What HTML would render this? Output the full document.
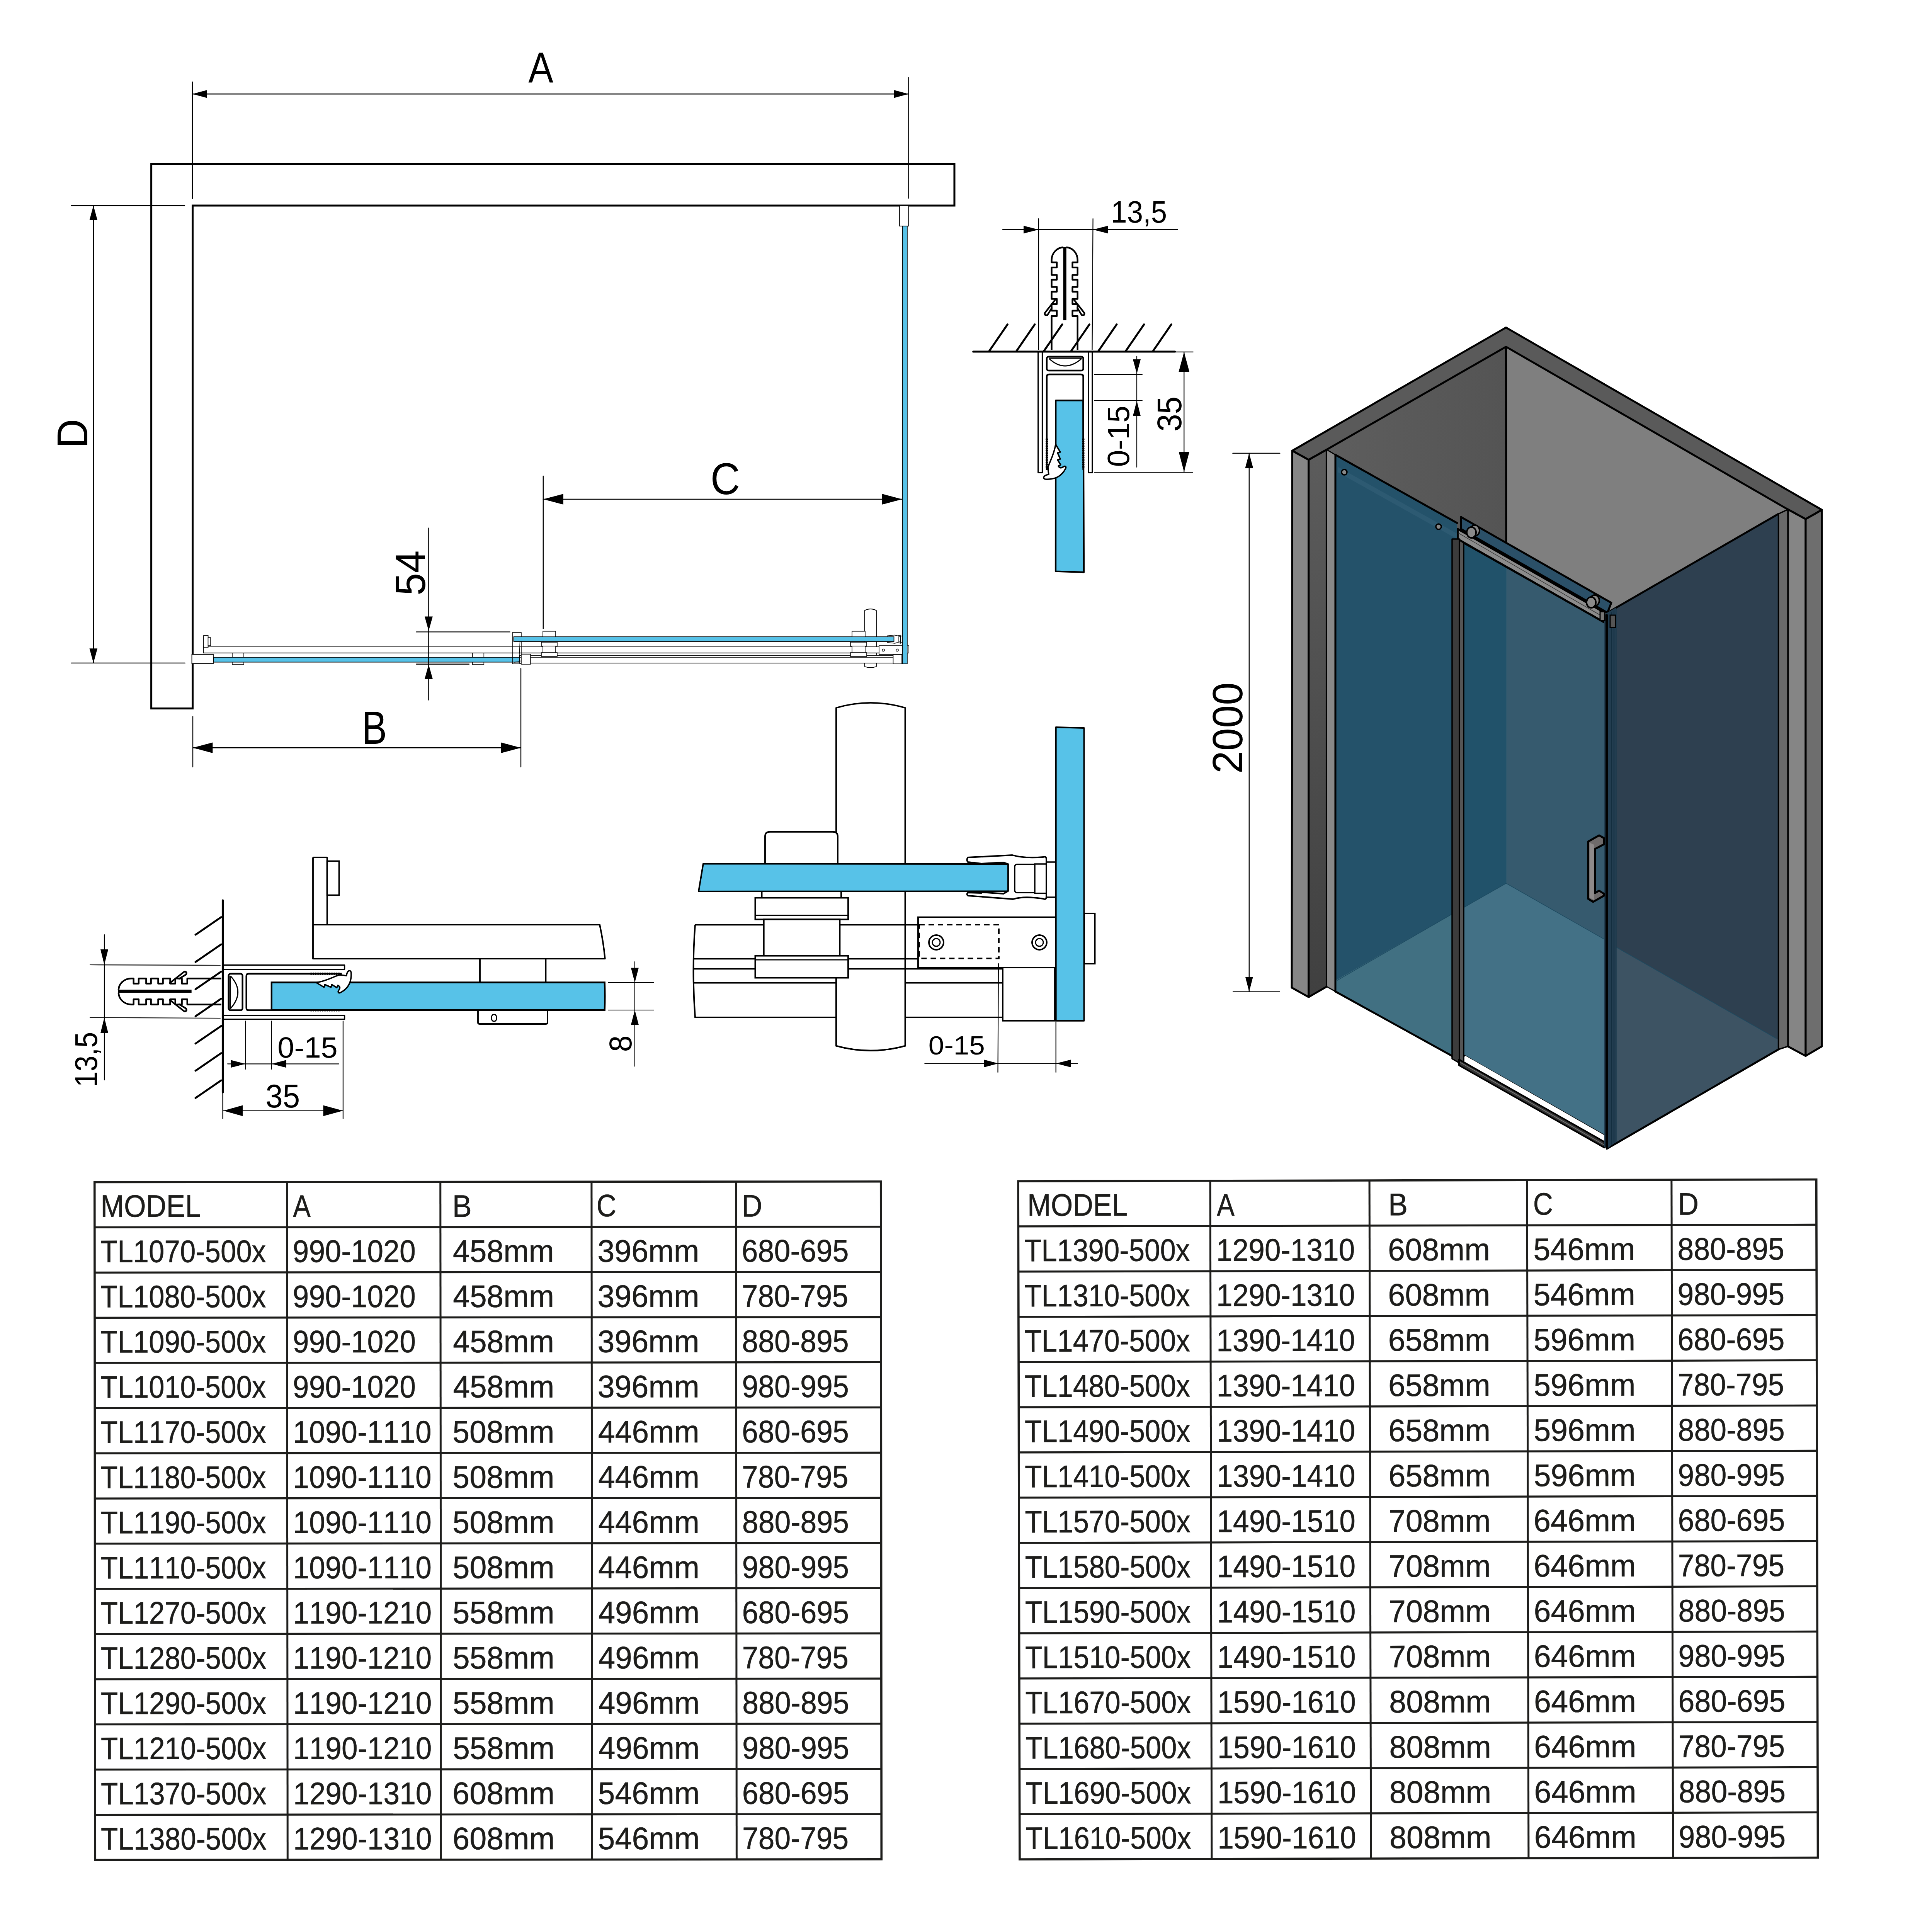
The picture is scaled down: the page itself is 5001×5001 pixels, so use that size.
<!DOCTYPE html><html><head><meta charset="utf-8"><style>html,body{margin:0;padding:0;background:#fff;width:5001px;height:5001px;overflow:hidden}svg{display:block}</style></head><body>
<svg width="5001" height="5001" viewBox="0 0 5001 5001" font-family='"Liberation Sans", sans-serif'>
<style>text{font-kerning:none;font-feature-settings:"kern" 0,"liga" 0;font-variant-ligatures:none}</style>
<rect width="5001" height="5001" fill="#fff"/>
<g fill="#1d1d1b">
<g transform="rotate(-0.05 1263.0 3935.6499999999996)">
<rect x="245.5" y="3058.6" width="2035.0" height="1754.1" fill="none" stroke="#1d1d1b" stroke-width="5.6"/>
<line x1="743.5" y1="3058.6" x2="743.5" y2="4812.7" stroke="#1d1d1b" stroke-width="5"/>
<line x1="1140.5" y1="3058.6" x2="1140.5" y2="4812.7" stroke="#1d1d1b" stroke-width="5"/>
<line x1="1531.7" y1="3058.6" x2="1531.7" y2="4812.7" stroke="#1d1d1b" stroke-width="5"/>
<line x1="1905.6" y1="3058.6" x2="1905.6" y2="4812.7" stroke="#1d1d1b" stroke-width="5"/>
<line x1="245.5" y1="3175.54" x2="2280.5" y2="3175.54" stroke="#1d1d1b" stroke-width="5.2"/>
<line x1="245.5" y1="3292.48" x2="2280.5" y2="3292.48" stroke="#1d1d1b" stroke-width="5.2"/>
<line x1="245.5" y1="3409.42" x2="2280.5" y2="3409.42" stroke="#1d1d1b" stroke-width="5.2"/>
<line x1="245.5" y1="3526.3599999999997" x2="2280.5" y2="3526.3599999999997" stroke="#1d1d1b" stroke-width="5.2"/>
<line x1="245.5" y1="3643.3" x2="2280.5" y2="3643.3" stroke="#1d1d1b" stroke-width="5.2"/>
<line x1="245.5" y1="3760.24" x2="2280.5" y2="3760.24" stroke="#1d1d1b" stroke-width="5.2"/>
<line x1="245.5" y1="3877.18" x2="2280.5" y2="3877.18" stroke="#1d1d1b" stroke-width="5.2"/>
<line x1="245.5" y1="3994.12" x2="2280.5" y2="3994.12" stroke="#1d1d1b" stroke-width="5.2"/>
<line x1="245.5" y1="4111.0599999999995" x2="2280.5" y2="4111.0599999999995" stroke="#1d1d1b" stroke-width="5.2"/>
<line x1="245.5" y1="4228.0" x2="2280.5" y2="4228.0" stroke="#1d1d1b" stroke-width="5.2"/>
<line x1="245.5" y1="4344.94" x2="2280.5" y2="4344.94" stroke="#1d1d1b" stroke-width="5.2"/>
<line x1="245.5" y1="4461.88" x2="2280.5" y2="4461.88" stroke="#1d1d1b" stroke-width="5.2"/>
<line x1="245.5" y1="4578.82" x2="2280.5" y2="4578.82" stroke="#1d1d1b" stroke-width="5.2"/>
<line x1="245.5" y1="4695.76" x2="2280.5" y2="4695.76" stroke="#1d1d1b" stroke-width="5.2"/>
<text transform="translate(261.02 3148.31) scale(0.9006 1)" font-size="81" stroke="#1d1d1b" stroke-width="0.7">MODEL</text>
<text transform="translate(758.87 3149.10) scale(0.8471 1)" font-size="81" stroke="#1d1d1b" stroke-width="0.7">A</text>
<text transform="translate(1171.43 3149.10) scale(0.9279 1)" font-size="81" stroke="#1d1d1b" stroke-width="0.7">B</text>
<text transform="translate(1544.39 3148.31) scale(0.8772 1)" font-size="81" stroke="#1d1d1b" stroke-width="0.7">C</text>
<text transform="translate(1919.91 3149.10) scale(0.9171 1)" font-size="81" stroke="#1d1d1b" stroke-width="0.7">D</text>
<text transform="translate(260.37 3265.75) scale(0.8975 1)" font-size="81" stroke="#1d1d1b" stroke-width="0.7">TL1070-500x</text>
<text transform="translate(758.07 3265.75) scale(0.9304 1)" font-size="81" stroke="#1d1d1b" stroke-width="0.7">990-1020</text>
<text transform="translate(1172.70 3265.75) scale(0.9700 1)" font-size="81" stroke="#1d1d1b" stroke-width="0.7">458mm</text>
<text transform="translate(1546.99 3265.75) scale(0.9745 1)" font-size="81" stroke="#1d1d1b" stroke-width="0.7">396mm</text>
<text transform="translate(1920.17 3265.75) scale(0.9318 1)" font-size="81" stroke="#1d1d1b" stroke-width="0.7">680-695</text>
<text transform="translate(260.37 3382.69) scale(0.8975 1)" font-size="81" stroke="#1d1d1b" stroke-width="0.7">TL1080-500x</text>
<text transform="translate(758.07 3382.69) scale(0.9304 1)" font-size="81" stroke="#1d1d1b" stroke-width="0.7">990-1020</text>
<text transform="translate(1172.70 3382.69) scale(0.9700 1)" font-size="81" stroke="#1d1d1b" stroke-width="0.7">458mm</text>
<text transform="translate(1546.99 3382.69) scale(0.9745 1)" font-size="81" stroke="#1d1d1b" stroke-width="0.7">396mm</text>
<text transform="translate(1920.15 3382.69) scale(0.9268 1)" font-size="81" stroke="#1d1d1b" stroke-width="0.7">780-795</text>
<text transform="translate(260.37 3499.63) scale(0.8975 1)" font-size="81" stroke="#1d1d1b" stroke-width="0.7">TL1090-500x</text>
<text transform="translate(758.07 3499.63) scale(0.9304 1)" font-size="81" stroke="#1d1d1b" stroke-width="0.7">990-1020</text>
<text transform="translate(1172.70 3499.63) scale(0.9700 1)" font-size="81" stroke="#1d1d1b" stroke-width="0.7">458mm</text>
<text transform="translate(1546.99 3499.63) scale(0.9745 1)" font-size="81" stroke="#1d1d1b" stroke-width="0.7">396mm</text>
<text transform="translate(1920.73 3499.63) scale(0.9299 1)" font-size="81" stroke="#1d1d1b" stroke-width="0.7">880-895</text>
<text transform="translate(260.37 3616.57) scale(0.8975 1)" font-size="81" stroke="#1d1d1b" stroke-width="0.7">TL1010-500x</text>
<text transform="translate(758.07 3616.57) scale(0.9304 1)" font-size="81" stroke="#1d1d1b" stroke-width="0.7">990-1020</text>
<text transform="translate(1172.70 3616.57) scale(0.9700 1)" font-size="81" stroke="#1d1d1b" stroke-width="0.7">458mm</text>
<text transform="translate(1546.99 3616.57) scale(0.9745 1)" font-size="81" stroke="#1d1d1b" stroke-width="0.7">396mm</text>
<text transform="translate(1920.47 3616.57) scale(0.9308 1)" font-size="81" stroke="#1d1d1b" stroke-width="0.7">980-995</text>
<text transform="translate(260.37 3733.51) scale(0.8975 1)" font-size="81" stroke="#1d1d1b" stroke-width="0.7">TL1170-500x</text>
<text transform="translate(758.29 3733.51) scale(0.9259 1)" font-size="81" stroke="#1d1d1b" stroke-width="0.7">1090-1110</text>
<text transform="translate(1171.34 3733.51) scale(0.9751 1)" font-size="81" stroke="#1d1d1b" stroke-width="0.7">508mm</text>
<text transform="translate(1548.20 3733.51) scale(0.9700 1)" font-size="81" stroke="#1d1d1b" stroke-width="0.7">446mm</text>
<text transform="translate(1920.17 3733.51) scale(0.9318 1)" font-size="81" stroke="#1d1d1b" stroke-width="0.7">680-695</text>
<text transform="translate(260.37 3850.45) scale(0.8975 1)" font-size="81" stroke="#1d1d1b" stroke-width="0.7">TL1180-500x</text>
<text transform="translate(758.29 3850.45) scale(0.9259 1)" font-size="81" stroke="#1d1d1b" stroke-width="0.7">1090-1110</text>
<text transform="translate(1171.34 3850.45) scale(0.9751 1)" font-size="81" stroke="#1d1d1b" stroke-width="0.7">508mm</text>
<text transform="translate(1548.20 3850.45) scale(0.9700 1)" font-size="81" stroke="#1d1d1b" stroke-width="0.7">446mm</text>
<text transform="translate(1920.15 3850.45) scale(0.9268 1)" font-size="81" stroke="#1d1d1b" stroke-width="0.7">780-795</text>
<text transform="translate(260.37 3967.39) scale(0.8975 1)" font-size="81" stroke="#1d1d1b" stroke-width="0.7">TL1190-500x</text>
<text transform="translate(758.29 3967.39) scale(0.9259 1)" font-size="81" stroke="#1d1d1b" stroke-width="0.7">1090-1110</text>
<text transform="translate(1171.34 3967.39) scale(0.9751 1)" font-size="81" stroke="#1d1d1b" stroke-width="0.7">508mm</text>
<text transform="translate(1548.20 3967.39) scale(0.9700 1)" font-size="81" stroke="#1d1d1b" stroke-width="0.7">446mm</text>
<text transform="translate(1920.73 3967.39) scale(0.9299 1)" font-size="81" stroke="#1d1d1b" stroke-width="0.7">880-895</text>
<text transform="translate(260.37 4084.33) scale(0.8975 1)" font-size="81" stroke="#1d1d1b" stroke-width="0.7">TL1110-500x</text>
<text transform="translate(758.29 4084.33) scale(0.9259 1)" font-size="81" stroke="#1d1d1b" stroke-width="0.7">1090-1110</text>
<text transform="translate(1171.34 4084.33) scale(0.9751 1)" font-size="81" stroke="#1d1d1b" stroke-width="0.7">508mm</text>
<text transform="translate(1548.20 4084.33) scale(0.9700 1)" font-size="81" stroke="#1d1d1b" stroke-width="0.7">446mm</text>
<text transform="translate(1920.47 4084.33) scale(0.9308 1)" font-size="81" stroke="#1d1d1b" stroke-width="0.7">980-995</text>
<text transform="translate(260.37 4201.27) scale(0.8975 1)" font-size="81" stroke="#1d1d1b" stroke-width="0.7">TL1270-500x</text>
<text transform="translate(758.29 4201.27) scale(0.9259 1)" font-size="81" stroke="#1d1d1b" stroke-width="0.7">1190-1210</text>
<text transform="translate(1171.34 4201.27) scale(0.9751 1)" font-size="81" stroke="#1d1d1b" stroke-width="0.7">558mm</text>
<text transform="translate(1548.20 4201.27) scale(0.9700 1)" font-size="81" stroke="#1d1d1b" stroke-width="0.7">496mm</text>
<text transform="translate(1920.17 4201.27) scale(0.9318 1)" font-size="81" stroke="#1d1d1b" stroke-width="0.7">680-695</text>
<text transform="translate(260.37 4318.21) scale(0.8975 1)" font-size="81" stroke="#1d1d1b" stroke-width="0.7">TL1280-500x</text>
<text transform="translate(758.29 4318.21) scale(0.9259 1)" font-size="81" stroke="#1d1d1b" stroke-width="0.7">1190-1210</text>
<text transform="translate(1171.34 4318.21) scale(0.9751 1)" font-size="81" stroke="#1d1d1b" stroke-width="0.7">558mm</text>
<text transform="translate(1548.20 4318.21) scale(0.9700 1)" font-size="81" stroke="#1d1d1b" stroke-width="0.7">496mm</text>
<text transform="translate(1920.15 4318.21) scale(0.9268 1)" font-size="81" stroke="#1d1d1b" stroke-width="0.7">780-795</text>
<text transform="translate(260.37 4435.15) scale(0.8975 1)" font-size="81" stroke="#1d1d1b" stroke-width="0.7">TL1290-500x</text>
<text transform="translate(758.29 4435.15) scale(0.9259 1)" font-size="81" stroke="#1d1d1b" stroke-width="0.7">1190-1210</text>
<text transform="translate(1171.34 4435.15) scale(0.9751 1)" font-size="81" stroke="#1d1d1b" stroke-width="0.7">558mm</text>
<text transform="translate(1548.20 4435.15) scale(0.9700 1)" font-size="81" stroke="#1d1d1b" stroke-width="0.7">496mm</text>
<text transform="translate(1920.73 4435.15) scale(0.9299 1)" font-size="81" stroke="#1d1d1b" stroke-width="0.7">880-895</text>
<text transform="translate(260.37 4552.09) scale(0.8975 1)" font-size="81" stroke="#1d1d1b" stroke-width="0.7">TL1210-500x</text>
<text transform="translate(758.29 4552.09) scale(0.9259 1)" font-size="81" stroke="#1d1d1b" stroke-width="0.7">1190-1210</text>
<text transform="translate(1171.34 4552.09) scale(0.9751 1)" font-size="81" stroke="#1d1d1b" stroke-width="0.7">558mm</text>
<text transform="translate(1548.20 4552.09) scale(0.9700 1)" font-size="81" stroke="#1d1d1b" stroke-width="0.7">496mm</text>
<text transform="translate(1920.47 4552.09) scale(0.9308 1)" font-size="81" stroke="#1d1d1b" stroke-width="0.7">980-995</text>
<text transform="translate(260.37 4669.03) scale(0.8975 1)" font-size="81" stroke="#1d1d1b" stroke-width="0.7">TL1370-500x</text>
<text transform="translate(758.29 4669.03) scale(0.9259 1)" font-size="81" stroke="#1d1d1b" stroke-width="0.7">1290-1310</text>
<text transform="translate(1170.48 4669.03) scale(0.9784 1)" font-size="81" stroke="#1d1d1b" stroke-width="0.7">608mm</text>
<text transform="translate(1546.84 4669.03) scale(0.9751 1)" font-size="81" stroke="#1d1d1b" stroke-width="0.7">546mm</text>
<text transform="translate(1920.17 4669.03) scale(0.9318 1)" font-size="81" stroke="#1d1d1b" stroke-width="0.7">680-695</text>
<text transform="translate(260.37 4785.97) scale(0.8975 1)" font-size="81" stroke="#1d1d1b" stroke-width="0.7">TL1380-500x</text>
<text transform="translate(758.29 4785.97) scale(0.9259 1)" font-size="81" stroke="#1d1d1b" stroke-width="0.7">1290-1310</text>
<text transform="translate(1170.48 4785.97) scale(0.9784 1)" font-size="81" stroke="#1d1d1b" stroke-width="0.7">608mm</text>
<text transform="translate(1546.84 4785.97) scale(0.9751 1)" font-size="81" stroke="#1d1d1b" stroke-width="0.7">546mm</text>
<text transform="translate(1920.15 4785.97) scale(0.9268 1)" font-size="81" stroke="#1d1d1b" stroke-width="0.7">780-795</text>
</g>
<g transform="rotate(-0.125 3669.8 3932.2)">
<rect x="2637" y="3054.7" width="2065.6000000000004" height="1755.0" fill="none" stroke="#1d1d1b" stroke-width="5.6"/>
<line x1="3134" y1="3054.7" x2="3134" y2="4809.7" stroke="#1d1d1b" stroke-width="5"/>
<line x1="3546" y1="3054.7" x2="3546" y2="4809.7" stroke="#1d1d1b" stroke-width="5"/>
<line x1="3954" y1="3054.7" x2="3954" y2="4809.7" stroke="#1d1d1b" stroke-width="5"/>
<line x1="4327.8" y1="3054.7" x2="4327.8" y2="4809.7" stroke="#1d1d1b" stroke-width="5"/>
<line x1="2637" y1="3171.7" x2="4702.6" y2="3171.7" stroke="#1d1d1b" stroke-width="5.2"/>
<line x1="2637" y1="3288.7" x2="4702.6" y2="3288.7" stroke="#1d1d1b" stroke-width="5.2"/>
<line x1="2637" y1="3405.7" x2="4702.6" y2="3405.7" stroke="#1d1d1b" stroke-width="5.2"/>
<line x1="2637" y1="3522.7" x2="4702.6" y2="3522.7" stroke="#1d1d1b" stroke-width="5.2"/>
<line x1="2637" y1="3639.7" x2="4702.6" y2="3639.7" stroke="#1d1d1b" stroke-width="5.2"/>
<line x1="2637" y1="3756.7" x2="4702.6" y2="3756.7" stroke="#1d1d1b" stroke-width="5.2"/>
<line x1="2637" y1="3873.7" x2="4702.6" y2="3873.7" stroke="#1d1d1b" stroke-width="5.2"/>
<line x1="2637" y1="3990.7" x2="4702.6" y2="3990.7" stroke="#1d1d1b" stroke-width="5.2"/>
<line x1="2637" y1="4107.7" x2="4702.6" y2="4107.7" stroke="#1d1d1b" stroke-width="5.2"/>
<line x1="2637" y1="4224.7" x2="4702.6" y2="4224.7" stroke="#1d1d1b" stroke-width="5.2"/>
<line x1="2637" y1="4341.7" x2="4702.6" y2="4341.7" stroke="#1d1d1b" stroke-width="5.2"/>
<line x1="2637" y1="4458.7" x2="4702.6" y2="4458.7" stroke="#1d1d1b" stroke-width="5.2"/>
<line x1="2637" y1="4575.7" x2="4702.6" y2="4575.7" stroke="#1d1d1b" stroke-width="5.2"/>
<line x1="2637" y1="4692.7" x2="4702.6" y2="4692.7" stroke="#1d1d1b" stroke-width="5.2"/>
<text transform="translate(2660.62 3144.41) scale(0.9006 1)" font-size="81" stroke="#1d1d1b" stroke-width="0.7">MODEL</text>
<text transform="translate(3150.87 3145.20) scale(0.8471 1)" font-size="81" stroke="#1d1d1b" stroke-width="0.7">A</text>
<text transform="translate(3594.83 3145.20) scale(0.9279 1)" font-size="81" stroke="#1d1d1b" stroke-width="0.7">B</text>
<text transform="translate(3969.39 3144.41) scale(0.8772 1)" font-size="81" stroke="#1d1d1b" stroke-width="0.7">C</text>
<text transform="translate(4344.31 3145.20) scale(0.9171 1)" font-size="81" stroke="#1d1d1b" stroke-width="0.7">D</text>
<text transform="translate(2652.37 3261.91) scale(0.8975 1)" font-size="81" stroke="#1d1d1b" stroke-width="0.7">TL1390-500x</text>
<text transform="translate(3149.29 3261.91) scale(0.9259 1)" font-size="81" stroke="#1d1d1b" stroke-width="0.7">1290-1310</text>
<text transform="translate(3593.58 3261.91) scale(0.9784 1)" font-size="81" stroke="#1d1d1b" stroke-width="0.7">608mm</text>
<text transform="translate(3969.84 3261.91) scale(0.9751 1)" font-size="81" stroke="#1d1d1b" stroke-width="0.7">546mm</text>
<text transform="translate(4343.03 3261.91) scale(0.9299 1)" font-size="81" stroke="#1d1d1b" stroke-width="0.7">880-895</text>
<text transform="translate(2652.37 3378.91) scale(0.8975 1)" font-size="81" stroke="#1d1d1b" stroke-width="0.7">TL1310-500x</text>
<text transform="translate(3149.29 3378.91) scale(0.9259 1)" font-size="81" stroke="#1d1d1b" stroke-width="0.7">1290-1310</text>
<text transform="translate(3593.58 3378.91) scale(0.9784 1)" font-size="81" stroke="#1d1d1b" stroke-width="0.7">608mm</text>
<text transform="translate(3969.84 3378.91) scale(0.9751 1)" font-size="81" stroke="#1d1d1b" stroke-width="0.7">546mm</text>
<text transform="translate(4342.77 3378.91) scale(0.9308 1)" font-size="81" stroke="#1d1d1b" stroke-width="0.7">980-995</text>
<text transform="translate(2652.37 3495.91) scale(0.8975 1)" font-size="81" stroke="#1d1d1b" stroke-width="0.7">TL1470-500x</text>
<text transform="translate(3149.29 3495.91) scale(0.9259 1)" font-size="81" stroke="#1d1d1b" stroke-width="0.7">1390-1410</text>
<text transform="translate(3593.58 3495.91) scale(0.9784 1)" font-size="81" stroke="#1d1d1b" stroke-width="0.7">658mm</text>
<text transform="translate(3969.84 3495.91) scale(0.9751 1)" font-size="81" stroke="#1d1d1b" stroke-width="0.7">596mm</text>
<text transform="translate(4342.47 3495.91) scale(0.9318 1)" font-size="81" stroke="#1d1d1b" stroke-width="0.7">680-695</text>
<text transform="translate(2652.37 3612.91) scale(0.8975 1)" font-size="81" stroke="#1d1d1b" stroke-width="0.7">TL1480-500x</text>
<text transform="translate(3149.29 3612.91) scale(0.9259 1)" font-size="81" stroke="#1d1d1b" stroke-width="0.7">1390-1410</text>
<text transform="translate(3593.58 3612.91) scale(0.9784 1)" font-size="81" stroke="#1d1d1b" stroke-width="0.7">658mm</text>
<text transform="translate(3969.84 3612.91) scale(0.9751 1)" font-size="81" stroke="#1d1d1b" stroke-width="0.7">596mm</text>
<text transform="translate(4342.45 3612.91) scale(0.9268 1)" font-size="81" stroke="#1d1d1b" stroke-width="0.7">780-795</text>
<text transform="translate(2652.37 3729.91) scale(0.8975 1)" font-size="81" stroke="#1d1d1b" stroke-width="0.7">TL1490-500x</text>
<text transform="translate(3149.29 3729.91) scale(0.9259 1)" font-size="81" stroke="#1d1d1b" stroke-width="0.7">1390-1410</text>
<text transform="translate(3593.58 3729.91) scale(0.9784 1)" font-size="81" stroke="#1d1d1b" stroke-width="0.7">658mm</text>
<text transform="translate(3969.84 3729.91) scale(0.9751 1)" font-size="81" stroke="#1d1d1b" stroke-width="0.7">596mm</text>
<text transform="translate(4343.03 3729.91) scale(0.9299 1)" font-size="81" stroke="#1d1d1b" stroke-width="0.7">880-895</text>
<text transform="translate(2652.37 3846.91) scale(0.8975 1)" font-size="81" stroke="#1d1d1b" stroke-width="0.7">TL1410-500x</text>
<text transform="translate(3149.29 3846.91) scale(0.9259 1)" font-size="81" stroke="#1d1d1b" stroke-width="0.7">1390-1410</text>
<text transform="translate(3593.58 3846.91) scale(0.9784 1)" font-size="81" stroke="#1d1d1b" stroke-width="0.7">658mm</text>
<text transform="translate(3969.84 3846.91) scale(0.9751 1)" font-size="81" stroke="#1d1d1b" stroke-width="0.7">596mm</text>
<text transform="translate(4342.77 3846.91) scale(0.9308 1)" font-size="81" stroke="#1d1d1b" stroke-width="0.7">980-995</text>
<text transform="translate(2652.37 3963.91) scale(0.8975 1)" font-size="81" stroke="#1d1d1b" stroke-width="0.7">TL1570-500x</text>
<text transform="translate(3149.29 3963.91) scale(0.9259 1)" font-size="81" stroke="#1d1d1b" stroke-width="0.7">1490-1510</text>
<text transform="translate(3593.54 3963.91) scale(0.9785 1)" font-size="81" stroke="#1d1d1b" stroke-width="0.7">708mm</text>
<text transform="translate(3968.98 3963.91) scale(0.9784 1)" font-size="81" stroke="#1d1d1b" stroke-width="0.7">646mm</text>
<text transform="translate(4342.47 3963.91) scale(0.9318 1)" font-size="81" stroke="#1d1d1b" stroke-width="0.7">680-695</text>
<text transform="translate(2652.37 4080.91) scale(0.8975 1)" font-size="81" stroke="#1d1d1b" stroke-width="0.7">TL1580-500x</text>
<text transform="translate(3149.29 4080.91) scale(0.9259 1)" font-size="81" stroke="#1d1d1b" stroke-width="0.7">1490-1510</text>
<text transform="translate(3593.54 4080.91) scale(0.9785 1)" font-size="81" stroke="#1d1d1b" stroke-width="0.7">708mm</text>
<text transform="translate(3968.98 4080.91) scale(0.9784 1)" font-size="81" stroke="#1d1d1b" stroke-width="0.7">646mm</text>
<text transform="translate(4342.45 4080.91) scale(0.9268 1)" font-size="81" stroke="#1d1d1b" stroke-width="0.7">780-795</text>
<text transform="translate(2652.37 4197.91) scale(0.8975 1)" font-size="81" stroke="#1d1d1b" stroke-width="0.7">TL1590-500x</text>
<text transform="translate(3149.29 4197.91) scale(0.9259 1)" font-size="81" stroke="#1d1d1b" stroke-width="0.7">1490-1510</text>
<text transform="translate(3593.54 4197.91) scale(0.9785 1)" font-size="81" stroke="#1d1d1b" stroke-width="0.7">708mm</text>
<text transform="translate(3968.98 4197.91) scale(0.9784 1)" font-size="81" stroke="#1d1d1b" stroke-width="0.7">646mm</text>
<text transform="translate(4343.03 4197.91) scale(0.9299 1)" font-size="81" stroke="#1d1d1b" stroke-width="0.7">880-895</text>
<text transform="translate(2652.37 4314.91) scale(0.8975 1)" font-size="81" stroke="#1d1d1b" stroke-width="0.7">TL1510-500x</text>
<text transform="translate(3149.29 4314.91) scale(0.9259 1)" font-size="81" stroke="#1d1d1b" stroke-width="0.7">1490-1510</text>
<text transform="translate(3593.54 4314.91) scale(0.9785 1)" font-size="81" stroke="#1d1d1b" stroke-width="0.7">708mm</text>
<text transform="translate(3968.98 4314.91) scale(0.9784 1)" font-size="81" stroke="#1d1d1b" stroke-width="0.7">646mm</text>
<text transform="translate(4342.77 4314.91) scale(0.9308 1)" font-size="81" stroke="#1d1d1b" stroke-width="0.7">980-995</text>
<text transform="translate(2652.37 4431.91) scale(0.8975 1)" font-size="81" stroke="#1d1d1b" stroke-width="0.7">TL1670-500x</text>
<text transform="translate(3149.29 4431.91) scale(0.9259 1)" font-size="81" stroke="#1d1d1b" stroke-width="0.7">1590-1610</text>
<text transform="translate(3594.16 4431.91) scale(0.9761 1)" font-size="81" stroke="#1d1d1b" stroke-width="0.7">808mm</text>
<text transform="translate(3968.98 4431.91) scale(0.9784 1)" font-size="81" stroke="#1d1d1b" stroke-width="0.7">646mm</text>
<text transform="translate(4342.47 4431.91) scale(0.9318 1)" font-size="81" stroke="#1d1d1b" stroke-width="0.7">680-695</text>
<text transform="translate(2652.37 4548.91) scale(0.8975 1)" font-size="81" stroke="#1d1d1b" stroke-width="0.7">TL1680-500x</text>
<text transform="translate(3149.29 4548.91) scale(0.9259 1)" font-size="81" stroke="#1d1d1b" stroke-width="0.7">1590-1610</text>
<text transform="translate(3594.16 4548.91) scale(0.9761 1)" font-size="81" stroke="#1d1d1b" stroke-width="0.7">808mm</text>
<text transform="translate(3968.98 4548.91) scale(0.9784 1)" font-size="81" stroke="#1d1d1b" stroke-width="0.7">646mm</text>
<text transform="translate(4342.45 4548.91) scale(0.9268 1)" font-size="81" stroke="#1d1d1b" stroke-width="0.7">780-795</text>
<text transform="translate(2652.37 4665.91) scale(0.8975 1)" font-size="81" stroke="#1d1d1b" stroke-width="0.7">TL1690-500x</text>
<text transform="translate(3149.29 4665.91) scale(0.9259 1)" font-size="81" stroke="#1d1d1b" stroke-width="0.7">1590-1610</text>
<text transform="translate(3594.16 4665.91) scale(0.9761 1)" font-size="81" stroke="#1d1d1b" stroke-width="0.7">808mm</text>
<text transform="translate(3968.98 4665.91) scale(0.9784 1)" font-size="81" stroke="#1d1d1b" stroke-width="0.7">646mm</text>
<text transform="translate(4343.03 4665.91) scale(0.9299 1)" font-size="81" stroke="#1d1d1b" stroke-width="0.7">880-895</text>
<text transform="translate(2652.37 4782.91) scale(0.8975 1)" font-size="81" stroke="#1d1d1b" stroke-width="0.7">TL1610-500x</text>
<text transform="translate(3149.29 4782.91) scale(0.9259 1)" font-size="81" stroke="#1d1d1b" stroke-width="0.7">1590-1610</text>
<text transform="translate(3594.16 4782.91) scale(0.9761 1)" font-size="81" stroke="#1d1d1b" stroke-width="0.7">808mm</text>
<text transform="translate(3968.98 4782.91) scale(0.9784 1)" font-size="81" stroke="#1d1d1b" stroke-width="0.7">646mm</text>
<text transform="translate(4342.77 4782.91) scale(0.9308 1)" font-size="81" stroke="#1d1d1b" stroke-width="0.7">980-995</text>
</g>
</g>
<path d="M2470,532 L2470,424.5 L391.6,424.5 L391.6,1833.6 L498.5,1833.6 L498.5,532 Z" fill="none" stroke="#000" stroke-width="5" stroke-linejoin="miter"/>
<line x1="498" y1="212" x2="498" y2="514" stroke="#000" stroke-width="2.2" stroke-linecap="round"/>
<line x1="2351.5" y1="201" x2="2351.5" y2="512.7" stroke="#000" stroke-width="2.4" stroke-linecap="round"/>
<line x1="498" y1="243.3" x2="2351.5" y2="243.3" stroke="#000" stroke-width="2.4" stroke-linecap="round"/>
<polygon points="498.0,243.3 536.0,253.6 536.0,233.0" fill="#000"/>
<polygon points="2351.5,243.3 2313.5,233.0 2313.5,253.6" fill="#000"/>
<text transform="translate(1367.61 212.90) scale(0.8624 1)" font-size="111.92" fill="#000" >A</text>
<line x1="185" y1="532" x2="478" y2="532" stroke="#000" stroke-width="2.4" stroke-linecap="round"/>
<line x1="184.7" y1="1715.9" x2="478.7" y2="1715.9" stroke="#000" stroke-width="2.4" stroke-linecap="round"/>
<line x1="241.8" y1="532" x2="241.8" y2="1715.9" stroke="#000" stroke-width="2.4" stroke-linecap="round"/>
<polygon points="241.8,532.0 231.5,569.7 252.1,569.7" fill="#000"/>
<polygon points="241.8,1715.9 252.1,1678.2 231.5,1678.2" fill="#000"/>
<text transform="translate(226.30 1160.64) rotate(-90) scale(0.9507 1)" font-size="112.07" fill="#000" >D</text>
<line x1="499" y1="1854.5" x2="499" y2="1984.7" stroke="#000" stroke-width="2.4" stroke-linecap="round"/>
<line x1="1348" y1="1730" x2="1348" y2="1984.7" stroke="#000" stroke-width="2.4" stroke-linecap="round"/>
<line x1="499" y1="1935.2" x2="1348" y2="1935.2" stroke="#000" stroke-width="2.4" stroke-linecap="round"/>
<polygon points="499.0,1935.2 550.4,1949.0 550.4,1921.4" fill="#000"/>
<polygon points="1348.0,1935.2 1296.6,1921.4 1296.6,1949.0" fill="#000"/>
<text transform="translate(936.53 1925.30) scale(0.8023 1)" font-size="121.08" fill="#000" >B</text>
<line x1="1405.8" y1="1231.9" x2="1405.8" y2="1626.8" stroke="#000" stroke-width="2.4" stroke-linecap="round"/>
<line x1="1405.8" y1="1292" x2="2334.8" y2="1292" stroke="#000" stroke-width="2.4" stroke-linecap="round"/>
<polygon points="1405.8,1292.0 1457.8,1305.8 1457.8,1278.2" fill="#000"/>
<polygon points="2334.8,1292.0 2282.8,1278.2 2282.8,1305.8" fill="#000"/>
<text transform="translate(1838.63 1278.57) scale(0.9146 1)" font-size="115.68" fill="#000" >C</text>
<rect x="2328" y="532" width="23.5" height="53.0" rx="0" fill="#fff" stroke="#000" stroke-width="1.8" />
<rect x="2335.7" y="585" width="12.2" height="1133.0" rx="0" fill="#57c2e8" stroke="#000" stroke-width="1.8" />
<path d="M2237.7,1580 Q2253,1572 2268,1580 L2268,1725 Q2253,1731 2237.7,1725 Z" fill="none" stroke="#000" stroke-width="1.8"/>
<rect x="526.6" y="1674" width="1786.4" height="15.8" rx="0" fill="#fff" stroke="#000" stroke-width="1.8" />
<rect x="1344" y="1696" width="969.0" height="20.0" rx="0" fill="#fff" stroke="#000" stroke-width="1.8" />
<line x1="1344" y1="1702" x2="2313" y2="1702" stroke="#000" stroke-width="1.5" stroke-linecap="round"/>
<rect x="496.5" y="1693.7" width="55.5" height="23.5" rx="0" fill="#fff" stroke="#000" stroke-width="1.8" />
<rect x="527" y="1645" width="11.6" height="30.0" rx="0" fill="#fff" stroke="#000" stroke-width="1.8" />
<rect x="538.6" y="1650" width="6.4" height="21.0" rx="0" fill="#fff" stroke="#000" stroke-width="1.5" />
<rect x="601" y="1689.8" width="30.0" height="30.2" rx="0" fill="#fff" stroke="#000" stroke-width="1.6" />
<rect x="1222.7" y="1689.8" width="29.6" height="30.2" rx="0" fill="#fff" stroke="#000" stroke-width="1.6" />
<rect x="552.5" y="1701" width="791.5" height="12.6" rx="0" fill="#57c2e8" stroke="#000" stroke-width="1.8" />
<rect x="1326" y="1637" width="23.0" height="81.0" rx="0" fill="none" stroke="#000" stroke-width="1.6" />
<path d="M1330,1650 L1346,1652 L1344,1695 L1346,1712 L1330,1714" fill="none" stroke="#000" stroke-width="1.4"/>
<rect x="1349" y="1693" width="24.0" height="26.0" rx="0" fill="#fff" stroke="#000" stroke-width="1.6" />
<path d="M2296,1645.5 L2316,1643.5 Q2323,1647 2330,1643.5 L2331,1665 Q2323,1661 2316,1665 L2296,1662.5 Z" fill="#fff" stroke="#000" stroke-width="1.5" stroke-linejoin="round"/>
<rect x="1329.6" y="1648" width="983.9" height="12.0" rx="0" fill="#57c2e8" stroke="#000" stroke-width="1.8" />
<rect x="2326" y="1647" width="4.5" height="14.0" rx="0" fill="none" stroke="#000" stroke-width="1.3" />
<rect x="2331" y="1646" width="4.5" height="17.0" rx="0" fill="#fff" stroke="#000" stroke-width="1.3" />
<rect x="1405" y="1633.7" width="33.0" height="14.3" rx="0" fill="#fff" stroke="#000" stroke-width="1.6" />
<rect x="1405" y="1670" width="33.0" height="20.0" rx="0" fill="#fff" stroke="#000" stroke-width="1.6" />
<rect x="1401" y="1662" width="41.0" height="10.0" rx="0" fill="#fff" stroke="#000" stroke-width="1.6" />
<rect x="1401" y="1689" width="41.0" height="10.0" rx="0" fill="#fff" stroke="#000" stroke-width="1.6" />
<rect x="2205" y="1633.7" width="34.0" height="14.3" rx="0" fill="#fff" stroke="#000" stroke-width="1.6" />
<rect x="2205" y="1670" width="34.0" height="20.0" rx="0" fill="#fff" stroke="#000" stroke-width="1.6" />
<rect x="2201" y="1662" width="42.0" height="10.0" rx="0" fill="#fff" stroke="#000" stroke-width="1.6" />
<rect x="2201" y="1689" width="42.0" height="10.0" rx="0" fill="#fff" stroke="#000" stroke-width="1.6" />
<rect x="2275" y="1671" width="60.0" height="23.0" rx="0" fill="#fff" stroke="#000" stroke-width="1.6" />
<circle cx="2286" cy="1682.5" r="3" fill="none" stroke="#000" stroke-width="1.5"/>
<circle cx="2322" cy="1682.5" r="3" fill="none" stroke="#000" stroke-width="1.5"/>
<rect x="2311.5" y="1694" width="22.5" height="24.0" rx="0" fill="#fff" stroke="#000" stroke-width="1.6" />
<rect x="2348" y="1670" width="4.0" height="20.0" rx="0" fill="#fff" stroke="#000" stroke-width="1.2" />
<line x1="1109.4" y1="1366.7" x2="1109.4" y2="1811.6" stroke="#000" stroke-width="2.4" stroke-linecap="round"/>
<polygon points="1109.4,1632.8 1119.8,1595.5 1099.0,1595.5" fill="#000"/>
<polygon points="1109.4,1719.8 1099.0,1757.1 1119.8,1757.1" fill="#000"/>
<line x1="1077.8" y1="1635.4" x2="1319.6" y2="1635.4" stroke="#000" stroke-width="2.4" stroke-linecap="round"/>
<line x1="1077.8" y1="1718.7" x2="1214" y2="1718.7" stroke="#000" stroke-width="2.4" stroke-linecap="round"/>
<text transform="translate(1100.34 1541.20) rotate(-90) scale(0.9639 1)" font-size="108.92" fill="#000" >54</text><line x1="2560.5" y1="908" x2="2607.5" y2="839.5" stroke="#000" stroke-width="4.944999999999999" stroke-linecap="round"/>
<line x1="2631" y1="908" x2="2678" y2="839.5" stroke="#000" stroke-width="4.944999999999999" stroke-linecap="round"/>
<line x1="2702" y1="908" x2="2749" y2="839.5" stroke="#000" stroke-width="4.944999999999999" stroke-linecap="round"/>
<line x1="2772.5" y1="908" x2="2819.5" y2="839.5" stroke="#000" stroke-width="4.944999999999999" stroke-linecap="round"/>
<line x1="2843" y1="908" x2="2890" y2="839.5" stroke="#000" stroke-width="4.944999999999999" stroke-linecap="round"/>
<line x1="2913.8" y1="908" x2="2960.8" y2="839.5" stroke="#000" stroke-width="4.944999999999999" stroke-linecap="round"/>
<line x1="2984.4" y1="908" x2="3031.4" y2="839.5" stroke="#000" stroke-width="4.944999999999999" stroke-linecap="round"/>
<line x1="2518.8" y1="910" x2="3040.6" y2="910" stroke="#000" stroke-width="5.159999999999999" stroke-linecap="round"/>
<line x1="3040" y1="910.8" x2="3087.7" y2="910.8" stroke="#000" stroke-width="2.2" stroke-linecap="round"/>
<line x1="2688" y1="566" x2="2688" y2="904.7" stroke="#000" stroke-width="2.2" stroke-linecap="round"/>
<line x1="2828.6" y1="566" x2="2826.5" y2="904.7" stroke="#000" stroke-width="2.2" stroke-linecap="round"/>
<line x1="2595" y1="594.2" x2="3047.8" y2="594.2" stroke="#000" stroke-width="2.2" stroke-linecap="round"/>
<polygon points="2688.0,594.2 2649.0,584.2 2649.0,604.2" fill="#000"/>
<polygon points="2828.6,594.2 2867.6,604.2 2867.6,584.2" fill="#000"/>
<text transform="translate(2875.33 576.03) scale(0.9389 1)" font-size="79.24" fill="#000" >13,5</text>
<g transform="">
<path d="M2751.7,640 C2735,641 2721.6,655 2721.6,672.8 L2721.6,679 L2721.6,679 L2735.1,679 L2735.1,692.2 L2721.6,692.2 L2721.6,711.6 L2735.1,711.6 L2735.1,724 L2721.6,724 L2721.6,742.7 L2735.1,742.7 L2735.1,755 L2721.6,755 L2721.6,773.7 L2735.1,773.7 L2735.1,787 L2721.6,787 L2721.6,804 L2735.1,804 L2735.1,818 L2721.6,818 L2721.6,906 M2759.5,640 C2776,641 2788.7,655 2788.7,672.8 L2788.7,679 L2788.7,679 L2775.5,679 L2775.5,692.2 L2788.7,692.2 L2788.7,711.6 L2775.5,711.6 L2775.5,724 L2788.7,724 L2788.7,742.7 L2775.5,742.7 L2775.5,755 L2788.7,755 L2788.7,773.7 L2775.5,773.7 L2775.5,787 L2788.7,787 L2788.7,804 L2775.5,804 L2775.5,818 L2788.7,818 L2788.7,906 " fill="none" stroke="#000" stroke-width="4.3" stroke-linejoin="round"/>
<rect x="2752.5" y="640" width="6.2" height="188.0" rx="0" fill="#000" stroke="#000" stroke-width="2" />
<path d="M2733,773 L2704,810 Q2703,818 2711,815 L2722,797" fill="none" stroke="#000" stroke-width="4.3" stroke-linejoin="round" stroke-linecap="round"/>
<path d="M2777.3,773 L2806.3,810 Q2807.3,818 2799.3,815 L2788.3,797" fill="none" stroke="#000" stroke-width="4.3" stroke-linejoin="round" stroke-linecap="round"/>
</g>
<polygon points="2732.2,1036.3 2803.5,1036.3 2805.0,1481.0 2732.0,1478.7" fill="#57c2e8" stroke="#000" stroke-width="4.3" stroke-linejoin="round" />
<g transform="">
<path d="M2686.8,910 L2686.8,1223 L2697.6,1223 L2697.6,910 M2827,910 L2827,1223 L2817,1223 L2817,910" fill="none" stroke="#000" stroke-width="3.44" stroke-linejoin="round"/>
<rect x="2709" y="923" width="94.5" height="36.0" rx="5" fill="none" stroke="#000" stroke-width="4.3" />
<path d="M2714,927 L2800,927 M2716,929 Q2756,965 2798,929" fill="none" stroke="#000" stroke-width="3"/>
<path d="M2709,1216 L2709,975 Q2709,969 2715,969 L2797.5,969 Q2803.5,969 2803.5,975 L2803.5,1216" fill="none" stroke="#000" stroke-width="4.3"/>
<path d="M2709,1135 L2709,1213 M2803.5,1135 L2803.5,1213" fill="none" stroke="#000" stroke-width="6" stroke-dasharray="3 3"/>
</g>
<g transform="">
<path d="M2732,1150 C2727,1180 2716,1195 2712,1210 L2714,1228 C2700,1230 2698,1238 2705,1240 C2730,1242 2748,1232 2758,1212 C2760,1207 2756,1205 2752,1208 C2747,1212 2742,1212 2739,1206 L2745,1203 L2737,1190 L2744,1188 L2737,1172 L2744,1170 Z" fill="#fff" stroke="#000" stroke-width="3.6" stroke-linejoin="round"/>
</g>
<line x1="2942" y1="922" x2="2942" y2="1209" stroke="#000" stroke-width="2.2" stroke-linecap="round"/>
<polygon points="2942.0,967.3 2952.0,930.0 2932.0,930.0" fill="#000"/>
<polygon points="2942.0,1037.0 2932.0,1076.6 2952.0,1076.6" fill="#000"/>
<line x1="2832" y1="969" x2="2956" y2="969" stroke="#000" stroke-width="2.2" stroke-linecap="round"/>
<line x1="2832" y1="1037" x2="2956" y2="1037" stroke="#000" stroke-width="2.2" stroke-linecap="round"/>
<text transform="translate(2921.52 1208.60) rotate(-90) scale(0.9951 1)" font-size="79.80" fill="#000" >0-15</text>
<line x1="3064.3" y1="911" x2="3064.3" y2="1221.3" stroke="#000" stroke-width="2.2" stroke-linecap="round"/>
<polygon points="3064.3,911.0 3050.5,962.0 3078.1,962.0" fill="#000"/>
<polygon points="3064.3,1221.3 3078.1,1169.0 3050.5,1169.0" fill="#000"/>
<line x1="2832" y1="1222.3" x2="3087" y2="1222.3" stroke="#000" stroke-width="2.2" stroke-linecap="round"/>
<text transform="translate(3056.74 1116.70) rotate(-90) scale(0.9215 1)" font-size="88.42" fill="#000" >35</text>
<line x1="506" y1="2419" x2="572.4" y2="2373.5" stroke="#000" stroke-width="4.944999999999999" stroke-linecap="round"/>
<line x1="506" y1="2489.5" x2="572.4" y2="2444.0" stroke="#000" stroke-width="4.944999999999999" stroke-linecap="round"/>
<line x1="506" y1="2560" x2="572.4" y2="2514.5" stroke="#000" stroke-width="4.944999999999999" stroke-linecap="round"/>
<line x1="506" y1="2630" x2="572.4" y2="2584.5" stroke="#000" stroke-width="4.944999999999999" stroke-linecap="round"/>
<line x1="506" y1="2700.7" x2="572.4" y2="2655.2" stroke="#000" stroke-width="4.944999999999999" stroke-linecap="round"/>
<line x1="506" y1="2771" x2="572.4" y2="2725.5" stroke="#000" stroke-width="4.944999999999999" stroke-linecap="round"/>
<line x1="506" y1="2841.5" x2="572.4" y2="2796.0" stroke="#000" stroke-width="4.944999999999999" stroke-linecap="round"/>
<line x1="576.5" y1="2330" x2="576.5" y2="2827" stroke="#000" stroke-width="5.159999999999999" stroke-linecap="round"/>
<line x1="233" y1="2497" x2="570" y2="2498" stroke="#000" stroke-width="2.2" stroke-linecap="round"/>
<line x1="233" y1="2633.6" x2="570" y2="2635" stroke="#000" stroke-width="2.2" stroke-linecap="round"/>
<line x1="270" y1="2419" x2="270" y2="2795" stroke="#000" stroke-width="2.2" stroke-linecap="round"/>
<polygon points="270.0,2497.0 280.0,2457.0 260.0,2457.0" fill="#000"/>
<polygon points="270.0,2633.6 260.0,2673.6 280.0,2673.6" fill="#000"/>
<text transform="translate(250.60 2813.59) rotate(-90) scale(0.8976 1)" font-size="81.78" fill="#000" >13,5</text>
<g transform="matrix(0 -1 1 0 -333.3 5321.15)">
<path d="M2751.7,640 C2735,641 2721.6,655 2721.6,672.8 L2721.6,679 L2721.6,679 L2735.1,679 L2735.1,692.2 L2721.6,692.2 L2721.6,711.6 L2735.1,711.6 L2735.1,724 L2721.6,724 L2721.6,742.7 L2735.1,742.7 L2735.1,755 L2721.6,755 L2721.6,773.7 L2735.1,773.7 L2735.1,787 L2721.6,787 L2721.6,804 L2735.1,804 L2735.1,818 L2721.6,818 L2721.6,906 M2759.5,640 C2776,641 2788.7,655 2788.7,672.8 L2788.7,679 L2788.7,679 L2775.5,679 L2775.5,692.2 L2788.7,692.2 L2788.7,711.6 L2775.5,711.6 L2775.5,724 L2788.7,724 L2788.7,742.7 L2775.5,742.7 L2775.5,755 L2788.7,755 L2788.7,773.7 L2775.5,773.7 L2775.5,787 L2788.7,787 L2788.7,804 L2775.5,804 L2775.5,818 L2788.7,818 L2788.7,906 " fill="none" stroke="#000" stroke-width="4.3" stroke-linejoin="round"/>
<rect x="2752.5" y="640" width="6.2" height="188.0" rx="0" fill="#000" stroke="#000" stroke-width="2" />
<path d="M2733,773 L2704,810 Q2703,818 2711,815 L2722,797" fill="none" stroke="#000" stroke-width="4.3" stroke-linejoin="round" stroke-linecap="round"/>
<path d="M2777.3,773 L2806.3,810 Q2807.3,818 2799.3,815 L2788.3,797" fill="none" stroke="#000" stroke-width="4.3" stroke-linejoin="round" stroke-linecap="round"/>
</g>
<rect x="810" y="2219" width="36.7" height="174.0" rx="2" fill="#fff" stroke="#000" stroke-width="3.87" />
<rect x="846.7" y="2228.6" width="30.9" height="88.1" rx="0" fill="#fff" stroke="#000" stroke-width="3.87" />
<path d="M810,2393 L1552,2393 Q1562,2440 1565.7,2481 L810,2481 Z" fill="#fff" stroke="#000" stroke-width="3.9" stroke-linejoin="round"/>
<rect x="1242" y="2481" width="170.4" height="61.9" rx="0" fill="#fff" stroke="#000" stroke-width="3.87" />
<path d="M1237,2614 L1237,2646 Q1237,2650 1241,2650 L1413,2650 Q1417,2650 1417,2646 L1417,2614" fill="#fff" stroke="#000" stroke-width="3.9"/>
<ellipse cx="1278.6" cy="2634.3" rx="7" ry="9" fill="none" stroke="#000" stroke-width="3"/>
<path d="M702.8,2542.5 L1564.8,2542.5 Q1566,2578 1564.8,2614 L702.8,2614 Z" fill="#57c2e8" stroke="#000" stroke-width="4.3"/>
<g transform="matrix(0 1 1 0 -331.4 -189)">
<path d="M2686.8,910 L2686.8,1223 L2697.6,1223 L2697.6,910 M2827,910 L2827,1223 L2817,1223 L2817,910" fill="none" stroke="#000" stroke-width="3.44" stroke-linejoin="round"/>
<rect x="2709" y="923" width="94.5" height="36.0" rx="5" fill="none" stroke="#000" stroke-width="4.3" />
<path d="M2714,927 L2800,927 M2716,929 Q2756,965 2798,929" fill="none" stroke="#000" stroke-width="3"/>
<path d="M2709,1216 L2709,975 Q2709,969 2715,969 L2797.5,969 Q2803.5,969 2803.5,975 L2803.5,1216" fill="none" stroke="#000" stroke-width="4.3"/>
<path d="M2709,1135 L2709,1213 M2803.5,1135 L2803.5,1213" fill="none" stroke="#000" stroke-width="6" stroke-dasharray="3 3"/>
</g>
<g transform="matrix(0 1 1 0 -331.4 -189)">
<path d="M2732,1150 C2727,1180 2716,1195 2712,1210 L2714,1228 C2700,1230 2698,1238 2705,1240 C2730,1242 2748,1232 2758,1212 C2760,1207 2756,1205 2752,1208 C2747,1212 2742,1212 2739,1206 L2745,1203 L2737,1190 L2744,1188 L2737,1172 L2744,1170 Z" fill="#fff" stroke="#000" stroke-width="3.6" stroke-linejoin="round"/>
</g>
<line x1="635.3" y1="2642.7" x2="635.3" y2="2767" stroke="#000" stroke-width="2.2" stroke-linecap="round"/>
<line x1="702.8" y1="2642.7" x2="702.8" y2="2767" stroke="#000" stroke-width="2.2" stroke-linecap="round"/>
<line x1="589" y1="2753.3" x2="876.7" y2="2753.3" stroke="#000" stroke-width="2.2" stroke-linecap="round"/>
<polygon points="635.3,2753.3 597.0,2743.3 597.0,2763.3" fill="#000"/>
<polygon points="702.8,2753.3 741.0,2763.3 741.0,2743.3" fill="#000"/>
<text transform="translate(718.37 2737.26) scale(1.0180 1)" font-size="76.27" fill="#000" >0-15</text>
<line x1="576.5" y1="2642.7" x2="576.5" y2="2895" stroke="#000" stroke-width="2.2" stroke-linecap="round"/>
<line x1="887.9" y1="2642.7" x2="887.9" y2="2895" stroke="#000" stroke-width="2.2" stroke-linecap="round"/>
<line x1="578" y1="2874.6" x2="887.9" y2="2874.6" stroke="#000" stroke-width="2.2" stroke-linecap="round"/>
<polygon points="578.0,2874.6 628.0,2888.6 628.0,2860.6" fill="#000"/>
<polygon points="887.9,2874.6 836.5,2860.6 836.5,2888.6" fill="#000"/>
<text transform="translate(687.35 2865.57) scale(0.9427 1)" font-size="84.89" fill="#000" >35</text>
<line x1="1574" y1="2543" x2="1692" y2="2543" stroke="#000" stroke-width="2.2" stroke-linecap="round"/>
<line x1="1574" y1="2614" x2="1692" y2="2614" stroke="#000" stroke-width="2.2" stroke-linecap="round"/>
<line x1="1642.9" y1="2489" x2="1642.9" y2="2759.5" stroke="#000" stroke-width="2.2" stroke-linecap="round"/>
<polygon points="1642.9,2543.0 1652.9,2504.8 1632.9,2504.8" fill="#000"/>
<polygon points="1642.9,2614.0 1632.9,2652.0 1652.9,2652.0" fill="#000"/>
<text transform="translate(1634.01 2722.33) rotate(-90) scale(0.9496 1)" font-size="80.79" fill="#000" >8</text>
<path d="M2164,1831.8 Q2253,1806 2342.6,1831.8 L2342.6,2706.6 Q2253,2731 2164,2706.6 Z" fill="#fff" stroke="#000" stroke-width="3.9" stroke-linejoin="round"/>
<path d="M1980,2235.5 L1980,2165 Q1980,2152.7 1992,2152.7 L2156,2152.7 Q2168,2152.7 2168,2165 L2168,2235.5" fill="#fff" stroke="#000" stroke-width="3.9"/>
<path d="M1799,2393.4 L2376,2393.4 M1799,2393.4 Q1790,2513 1799,2633 L2595,2633 M1795,2481.3 L2376,2481.3 M1795,2507.2 L2595,2507.2 M1795,2543.5 L2595,2543.5" fill="none" stroke="#000" stroke-width="3.9"/>
<path d="M2164,2531 L2164,2706.6 Q2253,2731 2342.6,2706.6 L2342.6,2531" fill="#fff" stroke="#000" stroke-width="3.9"/>
<rect x="1971.5" y="2307" width="205.5" height="16.5" rx="0" fill="#fff" stroke="#000" stroke-width="3.9" />
<rect x="1954.5" y="2323.5" width="240.5" height="55.9" rx="0" fill="#fff" stroke="#000" stroke-width="3.9" />
<line x1="1954.5" y1="2369" x2="2195" y2="2369" stroke="#000" stroke-width="3" stroke-linecap="round"/>
<rect x="1976.7" y="2379.4" width="196.7" height="94.2" rx="0" fill="#fff" stroke="#000" stroke-width="3.9" />
<rect x="1954.5" y="2473.6" width="240.5" height="56.9" rx="0" fill="#fff" stroke="#000" stroke-width="3.9" />
<line x1="1954.5" y1="2484" x2="2195" y2="2484" stroke="#000" stroke-width="3" stroke-linecap="round"/>
<polygon points="1819.9,2235.5 2609.8,2236.0 2609.8,2306.3 1808.0,2307.0" fill="#57c2e8" stroke="#000" stroke-width="3.9" stroke-linejoin="round" />
<path d="M2505,2219 L2620,2213 Q2650,2222 2700,2218 Q2708,2215 2708,2224 L2708,2320 Q2708,2330 2700,2326 Q2650,2318 2622,2327 L2505,2318 Q2500,2314 2505,2310 L2540,2311 L2540,2309 L2597,2313 L2609,2306 L2609,2236 L2597,2232 L2540,2235 L2505,2231 Q2500,2226 2505,2219 Z" fill="#fff" stroke="#000" stroke-width="3.9" stroke-linejoin="round"/>
<rect x="2626" y="2237" width="82.0" height="73.0" rx="6" fill="none" stroke="#000" stroke-width="3.5" />
<rect x="2678" y="2236" width="30.0" height="76.0" rx="0" fill="#fff" stroke="#000" stroke-width="3.5" />
<rect x="2708" y="2231" width="24.7" height="91.0" rx="0" fill="#fff" stroke="#000" stroke-width="3.5" />
<rect x="2376" y="2373.7" width="356.7" height="130.3" rx="0" fill="#fff" stroke="#000" stroke-width="3.9" />
<rect x="2379" y="2393" width="206" height="87.4" fill="none" stroke="#000" stroke-width="3.9" stroke-dasharray="14 10"/>
<circle cx="2423" cy="2439" r="19" fill="#fff" stroke="#000" stroke-width="3.9"/>
<circle cx="2423" cy="2439" r="10" fill="#fff" stroke="#000" stroke-width="3"/>
<circle cx="2690" cy="2439" r="19" fill="#fff" stroke="#000" stroke-width="3.9"/>
<circle cx="2690" cy="2439" r="10" fill="#fff" stroke="#000" stroke-width="3"/>
<rect x="2595" y="2504" width="135.0" height="137.7" rx="0" fill="#fff" stroke="#000" stroke-width="3.9" />
<rect x="2806" y="2364" width="27.5" height="130.0" rx="0" fill="#fff" stroke="#000" stroke-width="3.9" />
<polygon points="2732.7,1882.0 2805.5,1884.0 2805.5,2641.7 2732.7,2641.7" fill="#57c2e8" stroke="#000" stroke-width="3.9" stroke-linejoin="round" />
<line x1="2584" y1="2494" x2="2582.5" y2="2775" stroke="#000" stroke-width="2.2" stroke-linecap="round"/>
<line x1="2732.7" y1="2645" x2="2732.7" y2="2775" stroke="#000" stroke-width="2.2" stroke-linecap="round"/>
<line x1="2393.4" y1="2752.3" x2="2789" y2="2752.3" stroke="#000" stroke-width="2.2" stroke-linecap="round"/>
<polygon points="2584.0,2752.3 2546.0,2742.3 2546.0,2762.3" fill="#000"/>
<polygon points="2732.7,2752.3 2772.0,2762.3 2772.0,2742.3" fill="#000"/>
<text transform="translate(2402.85 2729.32) scale(1.0549 1)" font-size="69.21" fill="#000" >0-15</text><defs>
<linearGradient id="lwf" x1="0" y1="0" x2="0" y2="1"><stop offset="0" stop-color="#5c5c5c"/><stop offset="1" stop-color="#404040"/></linearGradient>
<linearGradient id="lbw" x1="0" y1="0" x2="1" y2="0"><stop offset="0" stop-color="#5e5e5e"/><stop offset="1" stop-color="#545454"/></linearGradient>
</defs>
<polygon points="3433.4,1163.7 3897.5,897.3 3898.0,2286.0 3455.0,2540.0" fill="url(#lbw)" stroke="none" stroke-width="0" stroke-linejoin="round" />
<polygon points="3897.5,897.3 4627.0,1318.3 4627.0,2708.0 3898.0,2286.0" fill="#7f7f7f" stroke="none" stroke-width="0" stroke-linejoin="round" />
<line x1="3897.5" y1="897.3" x2="3897.9" y2="1400.5" stroke="#000" stroke-width="5" stroke-linecap="round"/>
<polygon points="3344.3,1166.5 3897.5,847.6 4715.0,1319.5 4673.0,1343.5 4627.0,1318.3 3897.5,897.3 3433.4,1163.7 3386.8,1190.0" fill="#5a5a5a" stroke="#000" stroke-width="5" stroke-linejoin="round" />
<polygon points="3344.3,1166.5 3386.8,1190.0 3386.8,2580.4 3343.0,2556.0" fill="#868686" stroke="#000" stroke-width="5" stroke-linejoin="round" />
<polygon points="3386.8,1190.0 3433.4,1163.7 3433.5,2553.3 3386.8,2580.4" fill="url(#lwf)" stroke="#000" stroke-width="5" stroke-linejoin="round" />
<polygon points="4627.0,1318.3 4673.0,1343.5 4673.0,2732.7 4627.0,2708.0" fill="#858585" stroke="#000" stroke-width="5" stroke-linejoin="round" />
<polygon points="4673.0,1343.5 4715.0,1319.5 4715.0,2708.0 4673.0,2732.7" fill="#6e6e6e" stroke="#000" stroke-width="5" stroke-linejoin="round" />
<polygon points="3433.5,1163.7 3456.0,1177.0 3456.0,2566.0 3433.5,2553.3" fill="#888" stroke="#000" stroke-width="3" stroke-linejoin="round" />
<polygon points="3456.0,1177.0 3771.0,1353.5 3771.0,2740.0 3456.0,2566.0" fill="#24526a" stroke="none" stroke-width="0" stroke-linejoin="round" />
<polygon points="3456.0,2537.5 3771.0,2358.0 3771.0,2740.0 3456.0,2566.0" fill="#417082" stroke="none" stroke-width="0" stroke-linejoin="round" />
<line x1="3461" y1="2537" x2="3771" y2="2358" stroke="#1d4a60" stroke-width="1.5" stroke-linecap="round"/>
<polygon points="3462.0,1208.0 3771.0,1381.0 3771.0,1395.0 3462.0,1222.0" fill="#2d5a72" stroke="none" stroke-width="0" stroke-linejoin="round" />
<circle cx="3479" cy="1222" r="7" fill="#888" stroke="#000" stroke-width="3.5"/>
<circle cx="3723" cy="1363" r="7" fill="#888" stroke="#000" stroke-width="3.5"/>
<line x1="3456" y1="1177" x2="3771" y2="1353.5" stroke="#000" stroke-width="5" stroke-linecap="round"/>
<line x1="3456" y1="1177" x2="3456" y2="2566" stroke="#000" stroke-width="5" stroke-linecap="round"/>
<line x1="3456" y1="2566" x2="3771" y2="2740" stroke="#000" stroke-width="5" stroke-linecap="round"/>
<polygon points="3781.0,1338.0 4170.0,1560.0 4160.0,1585.6 3781.0,1369.0" fill="#2b5068" stroke="#000" stroke-width="5" stroke-linejoin="round" />
<polygon points="3788.0,1404.8 4152.6,1611.0 4155.0,2940.0 3788.0,2731.0" fill="#365a6e" stroke="none" stroke-width="0" stroke-linejoin="round" />
<polygon points="3788.0,1404.8 3898.0,1467.0 3898.0,2286.0 3788.0,2348.8" fill="#21526a" stroke="none" stroke-width="0" stroke-linejoin="round" />
<polygon points="3788.0,2348.8 3898.0,2286.0 4155.0,2432.7 4155.0,2940.0 3788.0,2731.0" fill="#437186" stroke="none" stroke-width="0" stroke-linejoin="round" />
<line x1="3788" y1="2731" x2="4155" y2="2940" stroke="#000" stroke-width="4" stroke-linecap="round"/>
<line x1="3788" y1="2348.8" x2="3898" y2="2286" stroke="#1d4a60" stroke-width="1.5" stroke-linecap="round"/>
<line x1="3898" y1="2286" x2="4155" y2="2432.7" stroke="#1d4a60" stroke-width="1.5" stroke-linecap="round"/>
<line x1="3898" y1="1467" x2="3898" y2="2286" stroke="#2a5a70" stroke-width="1.2" stroke-linecap="round"/>
<polygon points="3772.6,1369.0 4152.6,1585.6 4152.6,1611.0 3772.6,1395.0" fill="#8c8c8c" stroke="#000" stroke-width="5" stroke-linejoin="round" />
<line x1="3775" y1="1380" x2="4150" y2="1597" stroke="#333" stroke-width="1.5" stroke-linecap="round"/>
<ellipse cx="3817" cy="1373" rx="12" ry="14" fill="#888" stroke="#000" stroke-width="4"/>
<ellipse cx="3808" cy="1378" rx="12" ry="14" fill="#8a8a8a" stroke="#000" stroke-width="4"/>
<ellipse cx="4127" cy="1554" rx="12" ry="14" fill="#888" stroke="#000" stroke-width="4"/>
<ellipse cx="4118" cy="1559" rx="12" ry="14" fill="#8a8a8a" stroke="#000" stroke-width="4"/>
<polygon points="3758.0,1395.0 3777.0,1395.0 3777.0,2751.0 3758.0,2740.0" fill="#3c3c3c" stroke="#000" stroke-width="3.5" stroke-linejoin="round" />
<polygon points="3777.0,1398.0 3788.0,1404.8 3788.0,2748.0 3777.0,2751.0" fill="#555" stroke="#000" stroke-width="3.5" stroke-linejoin="round" />
<line x1="3788" y1="1404.8" x2="4152.6" y2="1611" stroke="#000" stroke-width="5" stroke-linecap="round"/>
<polygon points="3776.0,2742.0 4152.0,2955.0 4152.0,2970.0 3776.0,2757.0" fill="#333" stroke="#000" stroke-width="4" stroke-linejoin="round" />
<line x1="3780" y1="2750" x2="4150" y2="2962" stroke="#777" stroke-width="2" stroke-linecap="round"/>
<line x1="3793" y1="2736" x2="4150" y2="2940" stroke="#fff" stroke-width="6" stroke-linecap="round"/>
<polygon points="4160.0,1585.6 4602.5,1330.0 4602.5,2716.0 4158.6,2972.9" fill="#2e4050" stroke="none" stroke-width="0" stroke-linejoin="round" />
<polygon points="4160.0,2438.5 4602.5,2690.7 4602.5,2716.0 4158.6,2972.9" fill="#3d5363" stroke="none" stroke-width="0" stroke-linejoin="round" />
<line x1="4182" y1="2451" x2="4596" y2="2687" stroke="#1d4a60" stroke-width="1.5" stroke-linecap="round"/>
<line x1="4160" y1="1585.6" x2="4602.5" y2="1330" stroke="#000" stroke-width="5" stroke-linecap="round"/>
<line x1="4158.6" y1="2972.9" x2="4602.5" y2="2716" stroke="#000" stroke-width="5" stroke-linecap="round"/>
<polygon points="4602.5,1330.0 4627.0,1318.3 4627.0,2708.0 4602.5,2716.0" fill="#6a6a6a" stroke="#000" stroke-width="3.5" stroke-linejoin="round" />
<polygon points="4152.0,1590.0 4183.0,1572.0 4183.0,2955.0 4158.6,2972.9 4152.0,2968.0" fill="#223d50" stroke="none" stroke-width="0" stroke-linejoin="round" />
<line x1="4158" y1="1592" x2="4158" y2="2970" stroke="#000" stroke-width="6" stroke-linecap="round"/>
<line x1="4170" y1="1585" x2="4170" y2="2962" stroke="#0e2a3a" stroke-width="1.6" stroke-linecap="round"/>
<line x1="4177" y1="1581" x2="4177" y2="2958" stroke="#0e2a3a" stroke-width="1.6" stroke-linecap="round"/>
<line x1="4183" y1="1576" x2="4183" y2="2955" stroke="#1a3a4c" stroke-width="1.4" stroke-linecap="round"/>
<rect x="4167" y="1592" width="14.0" height="32.0" rx="0" fill="#555" stroke="#000" stroke-width="3" />
<rect x="4141" y="1583" width="12.0" height="23.0" rx="0" fill="#777" stroke="#000" stroke-width="3" />
<path d="M4110,2178 L4138.5,2162 L4151,2169 L4151,2185 L4128,2197 L4128,2311 L4138.5,2305 L4151,2313 L4151,2318 L4123,2334 L4110,2326 Z" fill="#6f6b6b" stroke="#000" stroke-width="5" stroke-linejoin="round"/>
<path d="M4113.7,2181 L4125.3,2186 L4125.3,2329 L4113.7,2323 Z" fill="#8e8a8a"/>
<line x1="3190.4" y1="1173" x2="3312.3" y2="1173" stroke="#000" stroke-width="2.4" stroke-linecap="round"/>
<line x1="3191.3" y1="2566.8" x2="3311.8" y2="2566.8" stroke="#000" stroke-width="2.4" stroke-linecap="round"/>
<line x1="3232.8" y1="1173" x2="3232.8" y2="2566.8" stroke="#000" stroke-width="2.4" stroke-linecap="round"/>
<polygon points="3232.8,1173.0 3222.3,1212.0 3243.3,1212.0" fill="#000"/>
<polygon points="3232.8,2566.8 3242.8,2527.9 3222.8,2527.9" fill="#000"/>
<text transform="translate(3215.23 2002.35) rotate(-90) scale(0.9675 1)" font-size="109.89" fill="#000" >2000</text>
</svg></body></html>
